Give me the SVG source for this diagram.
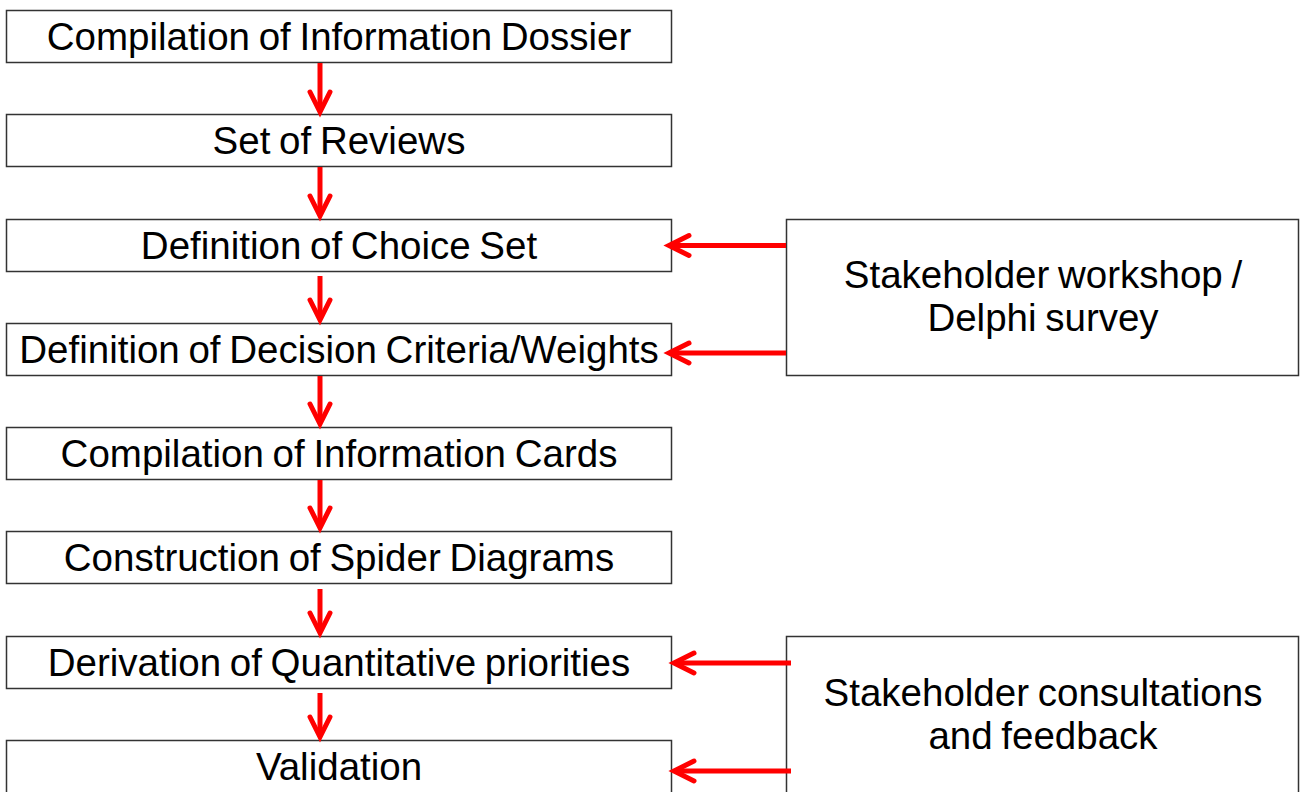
<svg xmlns="http://www.w3.org/2000/svg" width="1302" height="792" viewBox="0 0 1302 792">
<style>
.box{fill:#fff;stroke:#333;stroke-width:1.5}
.t{font-family:"Liberation Sans",Arial,sans-serif;font-size:38.5px;fill:#000;text-anchor:middle;word-spacing:-2px}
.a{fill:none;stroke:#ff0000;stroke-width:5}
.h{fill:none;stroke:#ff0000;stroke-width:5;stroke-linecap:round;stroke-linejoin:miter}
</style>
<rect width="1302" height="792" fill="#fff"/>
<g id="n1"><rect class="box" x="6.5" y="10.5" width="665" height="52"/><text class="t" x="339" y="50">Compilation of Information Dossier</text></g>
<g id="n2"><rect class="box" x="6.5" y="114.5" width="665" height="52"/><text class="t" x="339" y="154">Set of Reviews</text></g>
<g id="n3"><rect class="box" x="6.5" y="219.5" width="665" height="52"/><text class="t" x="339" y="259">Definition of Choice Set</text></g>
<g id="n4"><rect class="box" x="6.5" y="323.5" width="665" height="52"/><text class="t" x="339" y="363">Definition of Decision Criteria/Weights</text></g>
<g id="n5"><rect class="box" x="6.5" y="427.5" width="665" height="52"/><text class="t" x="339" y="467">Compilation of Information Cards</text></g>
<g id="n6"><rect class="box" x="6.5" y="531.5" width="665" height="52"/><text class="t" x="339" y="571">Construction of Spider Diagrams</text></g>
<g id="n7"><rect class="box" x="6.5" y="636.5" width="665" height="52"/><text class="t" x="339" y="676">Derivation of Quantitative priorities</text></g>
<g id="n8"><rect class="box" x="6.5" y="740.5" width="665" height="60"/><text class="t" x="339" y="780">Validation</text></g>
<g id="s1"><rect class="box" x="786.5" y="219.5" width="512" height="156"/><text class="t" x="1043" y="288">Stakeholder workshop /</text><text class="t" x="1043" y="331">Delphi survey</text></g>
<g id="s2"><rect class="box" x="786.5" y="636.5" width="512" height="170"/><text class="t" x="1043" y="706">Stakeholder consultations</text><text class="t" x="1043" y="749">and feedback</text></g>
<g id="connectors">
<path class="a" d="M320 63V110"/><path class="h" d="M310 92L320 112L330 92"/>
<path class="a" d="M320 167V214"/><path class="h" d="M310 196L320 216L330 196"/>
<path class="a" d="M320 276V318"/><path class="h" d="M310 300L320 320L330 300"/>
<path class="a" d="M320 376V422"/><path class="h" d="M310 404L320 424L330 404"/>
<path class="a" d="M320 480V526"/><path class="h" d="M310 508L320 528L330 508"/>
<path class="a" d="M320 589V631"/><path class="h" d="M310 613L320 633L330 613"/>
<path class="a" d="M320 693V735"/><path class="h" d="M310 717L320 737L330 717"/>
<path class="a" d="M786 245.5H672"/><path class="h" d="M689 235.5L669 245.5L689 255.5"/>
<path class="a" d="M786 353H672"/><path class="h" d="M689 343L669 353L689 363"/>
<path class="a" d="M791 663H677"/><path class="h" d="M694 653L674 663L694 673"/>
<path class="a" d="M791 771H677"/><path class="h" d="M694 761L674 771L694 781"/>
</g>
</svg>
